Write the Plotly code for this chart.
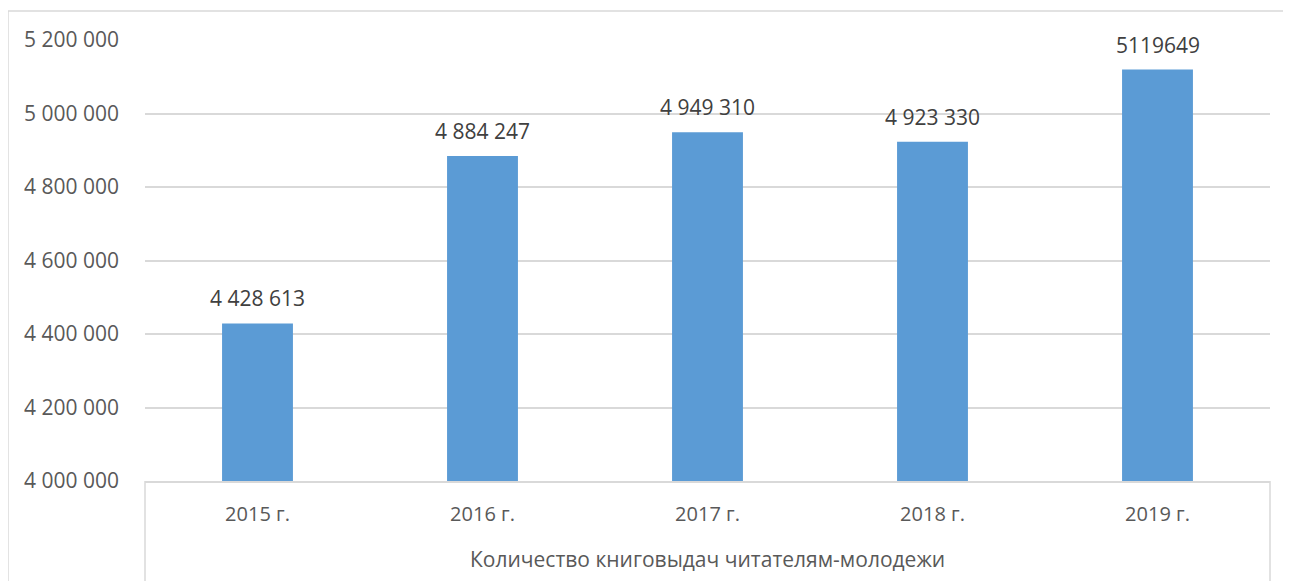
import plotly.graph_objects as go

categories = ["2015 г.", "2016 г.", "2017 г.", "2018 г.", "2019 г."]
values = [4428613, 4884247, 4949310, 4923330, 5119649]
value_labels = ["4 428 613", "4 884 247", "4 949 310", "4 923 330", "5119649"]
tick_vals = [4000000, 4200000, 4400000, 4600000, 4800000, 5000000, 5200000]
tick_text = ["4 000 000", "4 200 000", "4 400 000", "4 600 000", "4 800 000", "5 000 000", "5 200 000"]
axis_title = "Количество книговыдач читателям-молодежи"

FONT = "Open Sans"
GREY = "#D9D9D9"

fig = go.Figure()
fig.add_trace(go.Bar(
    x=categories, y=values, marker=dict(color="#5B9BD5", line=dict(width=0)),
    width=0.315, hoverinfo="skip",
))

for c, v, t in zip(categories, values, value_labels):
    fig.add_annotation(x=c, y=v, text=t, showarrow=False, yanchor="middle", yshift=25,
                       font=dict(family=FONT, size=21, color="#404040"))

fig.add_annotation(xref="paper", yref="paper", x=0.5, y=-0.177, text=axis_title, showarrow=False,
                   yanchor="middle", font=dict(family=FONT, size=21, color="#595959"))

# category-axis box and outer chart border
for xp in (0, 1):
    fig.add_shape(type="line", xref="paper", yref="paper", x0=xp, x1=xp, y0=0, y1=-0.25,
                  line=dict(color=GREY, width=1.5))
fig.add_shape(type="line", xref="paper", yref="paper", x0=-0.1218, x1=-0.1218, y0=1.0658, y1=-0.3,
              line=dict(color=GREY, width=1.5))
fig.add_shape(type="line", xref="paper", yref="paper", x0=-0.1218, x1=1.05, y0=1.0658, y1=1.0658,
              line=dict(color=GREY, width=1.5))

fig.update_layout(
    width=1291, height=581,
    margin=dict(l=137, r=29, t=32, b=108),
    paper_bgcolor="white", plot_bgcolor="white",
    showlegend=False,
    bargap=0.685,
    font=dict(family=FONT, size=20, color="#595959"),
    xaxis=dict(showgrid=False, showline=True, linecolor=GREY, linewidth=1.5,
               tickfont=dict(family=FONT, size=20, color="#595959"), ticks="",
               ticklabelstandoff=14),
    yaxis=dict(range=[4000000, 5200000], tickvals=tick_vals, ticktext=tick_text,
               showgrid=True, gridcolor=GREY, gridwidth=1.5, zeroline=False, showline=False,
               tickfont=dict(family=FONT, size=21, color="#595959"), ticks="",
               ticklabelstandoff=25),
)

fig.write_html("out.html")
